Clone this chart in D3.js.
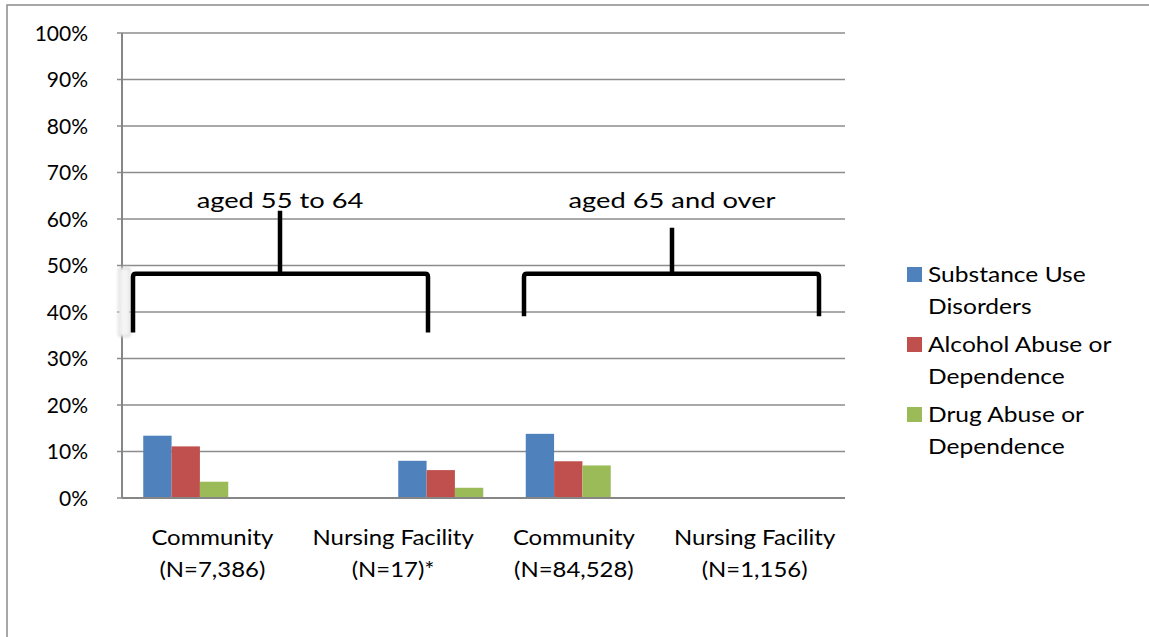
<!DOCTYPE html>
<html><head><meta charset="utf-8">
<script src="https://cdn.jsdelivr.net/npm/d3@7"></script>
<style>body{margin:0;background:#fff}text{font-family:Lato,"Open Sans",sans-serif;fill:#000}</style>
</head><body>
<script>
const categories = ["Community|(N=7,386)", "Nursing Facility|(N=17)*", "Community|(N=84,528)", "Nursing Facility|(N=1,156)"];
const seriesNames = ["Substance Use|Disorders", "Alcohol Abuse or|Dependence", "Drug Abuse or|Dependence"];
const substanceUse = [13.4, null, 8.0, 13.8];
const alcohol = [11.1, null, 6.0, 7.9];
const drug = [3.5, null, 2.2, 7.0];
const yTicks = [0,10,20,30,40,50,60,70,80,90,100];
const groupLabels = ["aged 55 to 64", "aged 65 and over"];
const colors = ["#4F81BD", "#C0504D", "#9BBB59"];
const series = [substanceUse, alcohol, drug];

(function () {
const W = 1149, H = 637;
const svg = d3.select("body").append("svg").attr("width", W).attr("height", H);
const defs = svg.append("defs");
defs.append("filter").attr("id", "soft").attr("x", "-50%").attr("y", "-50%").attr("width", "200%").attr("height", "200%")
  .append("feGaussianBlur").attr("stdDeviation", 1.5);

// outer frame
svg.append("rect").attr("x", 7).attr("y", 5).attr("width", W + 10).attr("height", H + 10)
  .attr("fill", "none").attr("stroke", "#8a8a8a").attr("stroke-width", 1.5);

const pLeft = 122, pRight = 845, pTop = 33, pBottom = 498;
const y = d3.scaleLinear().domain([0, 100]).range([pBottom, pTop]);
const xLab = d3.scaleBand().domain(categories).range([pLeft, pRight]);
const xBar = d3.scaleBand().domain(categories).range([pLeft, 632]);
const x1 = d3.scaleBand().domain(d3.range(3)).range([0, xBar.bandwidth()]).paddingOuter(0.75);

// gridlines
svg.append("g").selectAll("line").data(yTicks.filter(d => d > 0)).join("line")
  .attr("x1", pLeft - 5).attr("x2", pRight).attr("y1", d => y(d)).attr("y2", d => y(d))
  .attr("stroke", "#8c8c8c").attr("stroke-width", 1.5);
svg.append("line").attr("x1", pLeft - 5).attr("x2", pLeft).attr("y1", y(0)).attr("y2", y(0))
  .attr("stroke", "#8c8c8c").attr("stroke-width", 1.5);

// y labels
svg.append("g").selectAll("text").data(yTicks).join("text")
  .attr("x", 88).attr("y", d => y(d)).attr("dy", "0.36em").attr("text-anchor", "end")
  .style("font-size", "21px").text(d => d + "%");

// bars
const bars = [];
series.forEach((s, si) => s.forEach((v, ci) => { if (v != null) bars.push({si, ci, v}); }));
svg.append("g").selectAll("rect").data(bars).join("rect")
  .attr("x", d => xBar(categories[d.ci]) + x1(d.si)).attr("width", x1.bandwidth())
  .attr("y", d => y(d.v)).attr("height", d => y(0) - y(d.v))
  .attr("fill", d => colors[d.si]);

// axes lines
svg.append("line").attr("x1", pLeft).attr("x2", pLeft).attr("y1", pTop).attr("y2", pBottom)
  .attr("stroke", "#868686").attr("stroke-width", 2);
svg.append("line").attr("x1", pLeft).attr("x2", pRight).attr("y1", pBottom).attr("y2", pBottom)
  .attr("stroke", "#868686").attr("stroke-width", 2);

// x labels
const xl = svg.append("g").selectAll("text").data(categories).join("text")
  .attr("transform", d => `translate(${xLab(d) + xLab.bandwidth() / 2},545) scale(1.14,1)`)
  .attr("text-anchor", "middle").style("font-size", "21px");
xl.append("tspan").attr("x", 0).attr("y", 0).text(d => d.split("|")[0]);
xl.append("tspan").attr("x", 0).attr("y", 32).text(d => d.split("|")[1]);

// braces (hand-drawn annotation)
const braces = [
  {label: groupLabels[0], x0: 133, x1: 428, xs: 280, yBar: 48.2, yEnd: 35.6, yTop: 61.8, halo: true},
  {label: groupLabels[1], x0: 524, x1: 819, xs: 672, yBar: 48.2, yEnd: 39.1, yTop: 58.1, halo: false}
];
const bg = svg.append("g");
braces.forEach(b => {
  if (b.halo) {
    bg.append("rect").attr("x", b.x0 - 14).attr("y", y(b.yBar) - 6).attr("width", 11)
      .attr("height", y(b.yEnd) - y(b.yBar) + 10).attr("rx", 3)
      .attr("fill", "#f4f4f4").attr("stroke", "#c8c8c8").attr("stroke-width", 1.2)
      .attr("filter", "url(#soft)");
  }
  const p = d3.path();
  p.moveTo(b.x0, y(b.yEnd)); p.lineTo(b.x0, y(b.yBar) + 3); p.quadraticCurveTo(b.x0, y(b.yBar), b.x0 + 3, y(b.yBar));
  p.lineTo(b.x1 - 3, y(b.yBar)); p.quadraticCurveTo(b.x1, y(b.yBar), b.x1, y(b.yBar) + 3); p.lineTo(b.x1, y(b.yEnd));
  p.moveTo(b.xs, y(b.yTop)); p.lineTo(b.xs, y(b.yBar));
  bg.append("path").attr("d", p.toString()).attr("fill", "none").attr("stroke", "#000")
    .attr("stroke-width", 4.5);
  bg.append("text").attr("transform", `translate(${b.xs},208) scale(1.3,1)`)
    .attr("text-anchor", "middle").style("font-size", "21px").text(b.label);
});

// legend
const lg = svg.append("g").attr("transform", "translate(907,267)");
seriesNames.forEach((n, i) => {
  const g = lg.append("g").attr("transform", `translate(0,${i * 70})`);
  g.append("rect").attr("width", 15).attr("height", 15).attr("fill", colors[i]);
  const t = g.append("text").attr("transform", "translate(21,15) scale(1.17,1)").style("font-size", "21px");
  t.append("tspan").attr("x", 0).attr("y", 0).text(n.split("|")[0]);
  t.append("tspan").attr("x", 0).attr("y", 32).text(n.split("|")[1]);
});
})();
</script>
</body></html>
